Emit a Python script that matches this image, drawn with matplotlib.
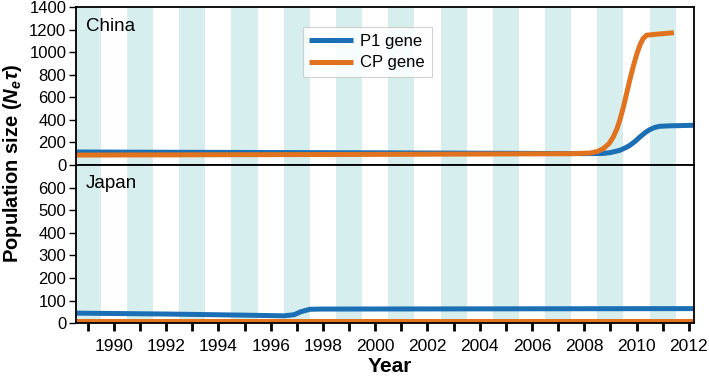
import matplotlib
matplotlib.use("Agg")
import matplotlib.pyplot as plt
from matplotlib.ticker import MultipleLocator

plt.rcParams['font.family'] = ['Liberation Sans', 'DejaVu Sans']
plt.rcParams['mathtext.fontset'] = 'custom'
plt.rcParams['mathtext.bf'] = 'Liberation Sans:bold:italic'
plt.rcParams['mathtext.it'] = 'Liberation Sans:italic'
plt.rcParams['mathtext.rm'] = 'Liberation Sans'

# ---- data ----
shaded_years = list(range(1989, 2012, 2))

china_p1_years = [1988.55, 2000, 2008.0, 2008.7, 2009.0, 2009.36, 2009.6, 2009.75, 2009.95,
                  2010.13, 2010.35, 2010.51, 2010.7, 2010.89, 2011.27, 2012.2]
china_p1_vals = [115, 108, 101, 102, 110, 130, 155, 175, 210, 248, 290, 314, 333, 343, 347, 352]

china_cp_years = [1988.55, 2000, 2007.45, 2008.22, 2008.5, 2008.73, 2008.95, 2009.11, 2009.25,
                  2009.36, 2009.5, 2009.62, 2009.75, 2009.87, 2010.0, 2010.13, 2010.25, 2010.39,
                  2010.77, 2011.43]
china_cp_vals = [88, 94, 100, 106, 120, 145, 190, 248, 320, 396, 515, 633, 760, 869, 975,
                 1062, 1120, 1150, 1159, 1172]

japan_p1_years = [1988.55, 1992, 1995, 1996.5, 1996.9, 1997.15, 1997.5, 1998, 2005, 2012.2]
japan_p1_vals = [45, 41, 36, 33, 38, 51, 62, 63, 64, 65]

japan_cp_years = [1988.55, 2012.2]
japan_cp_vals = [8, 8]

series_labels = ['P1 gene', 'CP gene']
panel_labels = ['China', 'Japan']
xtick_years = list(range(1990, 2013, 2))

blue = '#1b6fb5'
orange = '#e1731f'
band = '#d6eeed'

fig = plt.figure(figsize=(7.09, 3.78), dpi=100)
L, R = 76/709, 694/709
ax1 = fig.add_axes([L, 1-165/378, R-L, (165-7)/378])
ax2 = fig.add_axes([L, 1-323.3/378, R-L, (323.3-165)/378])

for ax in (ax1, ax2):
    for y in shaded_years:
        ax.axvspan(y-0.5, y+0.5, color=band, lw=0, zorder=0)
    ax.set_xlim(1988.55, 2012.2)
    for s in ax.spines.values():
        s.set_linewidth(1.3)
        s.set_color('black')
        s.set_zorder(6)
    ax.tick_params(axis='y', direction='out', length=5, width=1, labelsize=12, pad=2)

ax1.plot(china_p1_years, china_p1_vals, color=blue, lw=3.6, solid_capstyle='butt', label=series_labels[0], zorder=3)
ax1.plot(china_cp_years, china_cp_vals, color=orange, lw=3.6, solid_capstyle='butt', label=series_labels[1], zorder=4)
ax2.plot(japan_p1_years, japan_p1_vals, color=blue, lw=3.6, solid_capstyle='butt', zorder=3)
ax2.plot(japan_cp_years, japan_cp_vals, color=orange, lw=3.6, solid_capstyle='butt', zorder=4)

ax1.set_ylim(0, 1400)
ax1.set_yticks(range(0, 1401, 200))
ax2.set_ylim(0, 700)
ax2.set_yticks(range(0, 601, 100))

ax1.tick_params(axis='x', bottom=False, labelbottom=False)
ax2.set_xticks(xtick_years)
ax2.xaxis.set_minor_locator(MultipleLocator(1))
ax2.tick_params(axis='x', which='both', direction='out', length=6, width=2, labelsize=12.5, pad=5)

ax1.text(0.016, 0.875, panel_labels[0], transform=ax1.transAxes, fontsize=13.5, va='center')
ax2.text(0.016, 0.885, panel_labels[1], transform=ax2.transAxes, fontsize=13.5, va='center')

leg = ax1.legend(loc='upper left', bbox_to_anchor=(0.367, 0.873), fontsize=12, frameon=True,
                 fancybox=False, edgecolor='#c8c8c8', handlelength=2.6, handletextpad=0.45,
                 borderpad=0.4, labelspacing=0.4, borderaxespad=0)
leg.get_frame().set_linewidth(0.8)
leg.set_zorder(7)

fig.text(390/709, 2/378, 'Year', ha='center', va='bottom', fontsize=15, fontweight='bold')
fig.text(13/709, 1-164/378, r'Population size ($\mathbf{N}_{\mathbf{e}}\mathbf{\tau}$)', rotation=90,
         ha='center', va='center', fontsize=14.5, fontweight='bold')

fig.savefig('out.png', dpi=100)
